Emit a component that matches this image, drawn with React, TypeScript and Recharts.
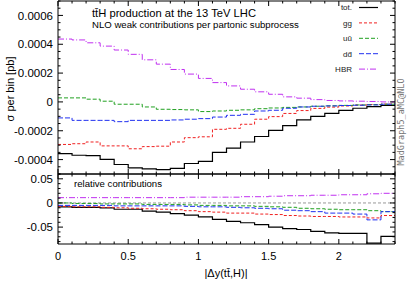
import React from "react";
import { LineChart, Line, XAxis, YAxis, ReferenceLine } from "recharts";

// lower bin edges in |dy(tt,H)|, last edge closes the histogram
const binLow = [0, 0.1, 0.2, 0.3, 0.4, 0.5, 0.6, 0.7, 0.8, 0.9, 1.0, 1.1, 1.2, 1.3, 1.4, 1.5, 1.6, 1.7, 1.8, 1.9, 2.0, 2.1, 2.2, 2.3];
const xEnd = 2.4;

// sigma per bin [pb]
const totAbs = [-3.59e-4, -3.7e-4, -3.72e-4, -3.99e-4, -4.34e-4, -4.57e-4, -4.64e-4, -4.69e-4, -4.61e-4, -4.27e-4, -4.12e-4, -3.5e-4, -3.2e-4, -2.78e-4, -2.4e-4, -1.98e-4, -1.65e-4, -1.25e-4, -1.0e-4, -0.8e-4, -0.58e-4, -0.44e-4, -0.32e-4, -0.25e-4];
const ggAbs = [-2.95e-4, -2.9e-4, -2.78e-4, -3.05e-4, -3.05e-4, -3.25e-4, -3.1e-4, -3.07e-4, -2.78e-4, -2.48e-4, -2.42e-4, -1.9e-4, -1.83e-4, -1.55e-4, -1.2e-4, -1.02e-4, -0.8e-4, -0.6e-4, -0.45e-4, -0.36e-4, -0.28e-4, -0.22e-4, -0.18e-4, -0.15e-4];
const uuAbs = [0.28e-4, 0.28e-4, 0.19e-4, 0.05e-4, -0.16e-4, -0.16e-4, -0.35e-4, -0.51e-4, -0.53e-4, -0.55e-4, -0.67e-4, -0.63e-4, -0.58e-4, -0.55e-4, -0.47e-4, -0.42e-4, -0.38e-4, -0.35e-4, -0.3e-4, -0.27e-4, -0.24e-4, -0.21e-4, -0.19e-4, -0.16e-4];
const ddAbs = [-1.11e-4, -1.28e-4, -1.28e-4, -1.28e-4, -1.37e-4, -1.28e-4, -1.28e-4, -1.28e-4, -1.25e-4, -1.2e-4, -1.16e-4, -1.05e-4, -0.93e-4, -0.86e-4, -0.63e-4, -0.58e-4, -0.44e-4, -0.35e-4, -0.3e-4, -0.28e-4, -0.25e-4, -0.23e-4, -0.21e-4, -0.16e-4];
const hbrAbs = [4.36e-4, 4.3e-4, 4.1e-4, 3.87e-4, 3.6e-4, 3.3e-4, 2.92e-4, 2.62e-4, 2.25e-4, 1.93e-4, 1.63e-4, 1.34e-4, 1.11e-4, 0.88e-4, 0.7e-4, 0.53e-4, 0.35e-4, 0.26e-4, 0.16e-4, 0.1e-4, 0.07e-4, 0.05e-4, 0.03e-4, 0.0];

// relative contributions
const totRel = [-0.008, -0.009, -0.009, -0.01, -0.013, -0.013, -0.017, -0.019, -0.022, -0.025, -0.029, -0.034, -0.038, -0.041, -0.045, -0.05, -0.053, -0.055, -0.059, -0.062, -0.063, -0.063, -0.083, -0.069];
const ggRel = [-0.007, -0.008, -0.008, -0.009, -0.01, -0.011, -0.012, -0.013, -0.014, -0.016, -0.018, -0.019, -0.021, -0.021, -0.023, -0.024, -0.026, -0.027, -0.028, -0.028, -0.029, -0.029, -0.031, -0.026];
const uuRel = [0.0, -0.001, -0.001, -0.002, -0.002, -0.002, -0.003, -0.003, -0.003, -0.004, -0.005, -0.005, -0.006, -0.006, -0.007, -0.008, -0.009, -0.011, -0.012, -0.013, -0.014, -0.014, -0.016, -0.018];
const ddRel = [-0.005, -0.005, -0.005, -0.005, -0.006, -0.006, -0.006, -0.006, -0.006, -0.007, -0.008, -0.008, -0.009, -0.01, -0.011, -0.012, -0.015, -0.016, -0.018, -0.021, -0.021, -0.023, -0.035, -0.018];
const hbrRel = [0.011, 0.011, 0.011, 0.011, 0.011, 0.011, 0.011, 0.011, 0.011, 0.012, 0.012, 0.012, 0.012, 0.013, 0.013, 0.014, 0.015, 0.015, 0.016, 0.016, 0.017, 0.017, 0.019, 0.02];

const xMajor = [0, 0.5, 1, 1.5, 2];
const xLabels = ["0", "0.5", "1", "1.5", "2"];
const yTopMajor = [-0.0004, -0.0002, 0, 0.0002, 0.0004, 0.0006];
const yTopLabels = ["-0.0004", "-0.0002", "0", "0.0002", "0.0004", "0.0006"];
const yBotMajor = [-0.05, 0, 0.05];
const yBotLabels = ["-0.05", "0", "0.05"];

const series = [
  { key: "tot", label: "tot.", color: "#000000", dash: undefined as string | undefined, width: 1.2 },
  { key: "gg", label: "gg", color: "#f02020", dash: "3 2", width: 1 },
  { key: "uu", label: "u\u016B", color: "#20a020", dash: "4 2", width: 1 },
  { key: "dd", label: "dd\u0304", color: "#2030f0", dash: "5 2", width: 1 },
  { key: "hbr", label: "HBR", color: "#c030f0", dash: "6 2 1 2", width: 1 },
];

const FONT = '"Liberation Sans", Arial, Helvetica, sans-serif';
const W = 407;
const H = 281;
const PLOT_L = 58;
const PLOT_R = 395;
const TOP_Y = 1;
const MID_Y = 174;
const BOT_Y = 244;
const AX = 1; // thickness given to the mirrored axes so they get drawn

function buildRows(cols: Record<string, number[]>) {
  const rows = binLow.map((x, i) => {
    const r: Record<string, number> = { x };
    for (const k in cols) r[k] = cols[k][i];
    return r;
  });
  const last: Record<string, number> = { x: xEnd };
  for (const k in cols) last[k] = cols[k][cols[k].length - 1];
  rows.push(last);
  return rows;
}

const topRows = buildRows({ tot: totAbs, gg: ggAbs, uu: uuAbs, dd: ddAbs, hbr: hbrAbs });
const botRows = buildRows({ tot: totRel, gg: ggRel, uu: uuRel, dd: ddRel, hbr: hbrRel });

const xTicks = [...binLow, xEnd];
const yTopTicks = Array.from({ length: 25 }, (_, k) => (k - 10) * 0.00005);
const yBotTicks = Array.from({ length: 15 }, (_, k) => (k - 8) * 0.01);

const findIdx = (arr: number[], v: number, tol: number) => arr.findIndex((m) => Math.abs(m - v) < tol);

function xTick(dir: 1 | -1, withLabels: boolean) {
  return (p: any) => {
    const v = p.payload.value;
    const i = findIdx(xMajor, v, 1e-6);
    const len = i >= 0 ? 5 : 2.5;
    return (
      <g>
        <line x1={p.x} x2={p.x} y1={p.y} y2={p.y + dir * len} stroke="#000" strokeWidth={1} />
        {withLabels && i >= 0 && (
          <text x={p.x} y={p.y + 16} textAnchor="middle" fontSize={11} fontFamily={FONT} fill="#000">
            {xLabels[i]}
          </text>
        )}
      </g>
    );
  };
}

function yTick(dir: 1 | -1, majors: number[], labels: string[] | null, tol: number) {
  return (p: any) => {
    const v = p.payload.value;
    const i = findIdx(majors, v, tol);
    const len = i >= 0 ? 5 : 2.5;
    return (
      <g>
        <line x1={p.x} x2={p.x + dir * len} y1={p.y} y2={p.y} stroke="#000" strokeWidth={1} />
        {labels && i >= 0 && (
          <text x={p.x - 5} y={p.y} dy="0.36em" textAnchor="end" fontSize={11.5} fontFamily={FONT} fill="#000">
            {labels[i]}
          </text>
        )}
      </g>
    );
  };
}

function Panel({ rows, height, top, bottom, domain, yTicks, majors, labels, tol, xLabelsOn, zeroLine }: any) {
  return (
    <LineChart width={W} height={height} data={rows} margin={{ top, right: W - PLOT_R - AX, bottom, left: 0 }}>
      <XAxis xAxisId="b" dataKey="x" type="number" domain={[0, xEnd]} ticks={xTicks} interval={0} height={AX}
        allowDataOverflow tickSize={0} tickMargin={0} axisLine={{ stroke: "#000" }} tick={xTick(-1, xLabelsOn)} />
      <XAxis xAxisId="t" dataKey="x" type="number" orientation="top" domain={[0, xEnd]} ticks={xTicks} interval={0} height={AX}
        allowDataOverflow tickSize={0} tickMargin={0} axisLine={{ stroke: "#000" }} tick={xTick(1, false)} />
      <YAxis yAxisId="l" type="number" domain={domain} ticks={yTicks} interval={0} width={PLOT_L}
        allowDataOverflow tickSize={0} tickMargin={0} axisLine={{ stroke: "#000" }} tick={yTick(1, majors, labels, tol)} />
      <YAxis yAxisId="r" type="number" orientation="right" domain={domain} ticks={yTicks} interval={0} width={AX}
        allowDataOverflow tickSize={0} tickMargin={0} axisLine={{ stroke: "#000" }} tick={yTick(-1, majors, null, tol)} />
      {zeroLine && (
        <ReferenceLine xAxisId="b" yAxisId="l" y={0} stroke="#999" strokeDasharray="3 2" strokeWidth={1} />
      )}
      {series.map((s) => (
        <Line key={s.key} xAxisId="b" yAxisId="l" dataKey={s.key} type="stepAfter" stroke={s.color}
          strokeWidth={s.width} strokeDasharray={s.dash} dot={false} activeDot={false} isAnimationActive={false} />
      ))}
    </LineChart>
  );
}

export default function App() {
  const botTop = MID_Y - AX;
  const botH = H - botTop;
  return (
    <div style={{ position: "absolute", left: 0, top: 0, width: W, height: H, background: "#fff", fontFamily: FONT }}>
      <div style={{ position: "absolute", left: 0, top: 0 }}>
        <Panel rows={topRows} height={MID_Y + AX} top={TOP_Y - AX} bottom={0} domain={[-0.0005, 0.0007]}
          yTicks={yTopTicks} majors={yTopMajor} labels={yTopLabels} tol={1e-9} xLabelsOn={false} zeroLine={false} />
      </div>
      <div style={{ position: "absolute", left: 0, top: botTop }}>
        <Panel rows={botRows} height={botH} top={0} bottom={H - BOT_Y - AX} domain={[-0.085, 0.06]}
          yTicks={yBotTicks} majors={yBotMajor} labels={yBotLabels} tol={1e-6} xLabelsOn={true} zeroLine={true} />
      </div>
      <svg width={W} height={H} style={{ position: "absolute", left: 0, top: 0, pointerEvents: "none" }}>
        <text x={92} y={17} fontSize={11.2} fontFamily={FONT} fill="#000">t{"t\u0304"}H production at the 13 TeV LHC</text>
        <text x={92} y={28} fontSize={9.6} fontFamily={FONT} fill="#000">NLO weak contributions per partonic subprocess</text>
        {series.map((s, i) => (
          <g key={s.key}>
            <text x={352} y={7.5 + i * 15.4} dy="0.35em" textAnchor="end" fontSize={8} fontFamily={FONT} fill="#222">{s.label}</text>
            <line x1={359} x2={378} y1={7.5 + i * 15.4} y2={7.5 + i * 15.4} stroke={s.color} strokeWidth={s.width} strokeDasharray={s.dash} />
          </g>
        ))}
        <text x={74} y={187} fontSize={9.6} fontFamily={FONT} fill="#000">relative contributions</text>
        <text transform="translate(14,89) rotate(-90)" textAnchor="middle" fontSize={11} fontFamily={FONT} fill="#000">σ per bin [pb]</text>
        <text x={226} y={277} textAnchor="middle" fontSize={11} fontFamily={FONT} fill="#000">|Δy(t{"t\u0304"},H)|</text>
        <text transform="translate(404,122) rotate(-90)" textAnchor="middle" fontSize={8.5} fontFamily='"DejaVu Sans Mono", "Liberation Mono", monospace' fill="#777">MadGraph5_aMC@NLO</text>
      </svg>
    </div>
  );
}
